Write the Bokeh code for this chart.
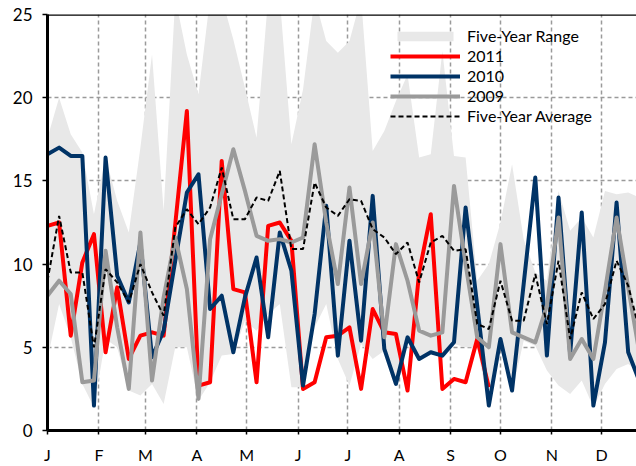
from bokeh.plotting import figure
from bokeh.models import Range1d, FixedTicker, Span, Legend, LegendItem
from bokeh.embed import file_html
from bokeh.resources import INLINE

# x positions: day of year of each weekly observation
week_day = [0, 7, 14, 21, 28, 35, 42, 49, 56, 63, 70, 77, 84, 91, 98, 105, 112, 119,
            126, 133, 140, 147, 154, 161, 168, 175, 182, 189, 196, 203, 210, 217, 224,
            231, 238, 245, 252, 259, 266, 273, 280, 287, 294, 301, 308, 315, 322, 329,
            336, 343, 350, 357]

month_start_day = [0, 31, 59, 90, 120, 151, 181, 212, 243, 273, 304, 334]
month_labels = ["J", "F", "M", "A", "M", "J", "J", "A", "S", "O", "N", "D"]
y_ticks = [0, 5, 10, 15, 20, 25]

range_high = [17.6, 20.0, 17.8, 16.7, 13.0, 16.4, 13.8, 11.9, 17.0, 22.6, 13.2, 26.0,
              22.6, 20.2, 26.0, 26.0, 23.5, 20.6, 17.6, 26.0, 26.0, 17.2, 20.5, 26.0,
              23.4, 22.7, 23.4, 26.0, 16.8, 18.0, 19.8, 21.4, 16.4, 16.6, 22.8, 16.5,
              16.4, 9.0, 10.0, 12.5, 16.0, 11.5, 9.5, 9.0, 14.4, 12.0, 12.8, 11.6,
              14.4, 14.2, 14.3, 14.0]
range_low = [4.3, 7.6, 5.6, 2.8, 1.4, 5.5, 5.0, 2.4, 2.1, 2.8, 1.6, 5.0,
             5.0, 1.8, 2.9, 4.5, 4.6, 6.6, 6.0, 7.0, 7.6, 2.6, 2.6, 6.2,
             7.6, 4.3, 2.7, 5.2, 4.3, 4.8, 2.7, 5.5, 4.2, 4.6, 4.4, 5.2,
             5.0, 5.0, 1.4, 5.0, 2.3, 5.4, 5.1, 3.6, 2.7, 2.2, 3.0, 1.4,
             2.8, 3.7, 4.0, 3.5]

y2011 = [12.3, 12.5, 5.7, 10.1, 11.8, 4.7, 8.6, 4.3, 5.7, 5.9, 5.7, 12.4, 19.2,
         2.7, 2.9, 16.2, 8.5, 8.3, 2.9, 12.3, 12.5, 11.4, 2.5, 2.9, 5.6, 5.7,
         6.2, 2.5, 7.3, 5.9, 5.8, 2.4, 9.5, 13.0, 2.5, 3.1, 2.9, 5.5, 2.6]

y2010 = [16.6, 17.0, 16.5, 16.5, 1.5, 16.4, 9.3, 7.7, 11.3, 4.4, 6.0, 10.2, 14.3,
         15.4, 7.3, 8.1, 4.7, 8.0, 10.4, 5.6, 11.9, 9.6, 2.7, 7.0, 13.5, 4.5,
         11.4, 5.4, 14.1, 4.9, 2.8, 5.6, 4.3, 4.7, 4.5, 5.3, 13.4, 7.5, 1.5,
         5.5, 2.4, 8.8, 15.2, 4.5, 14.0, 4.6, 13.1, 1.5, 5.3, 13.7, 4.7, 2.9]

y2009 = [8.1, 9.0, 8.2, 2.9, 3.0, 10.8, 6.2, 2.5, 11.9, 3.0, 8.0, 11.6, 8.5,
         1.9, 11.5, 14.2, 16.9, 14.4, 11.7, 11.4, 11.5, 11.3, 11.6, 17.2, 12.5, 8.8,
         14.6, 8.8, 12.5, 5.6, 11.2, 9.0, 6.0, 5.7, 5.9, 14.7, 10.0, 5.6, 5.0,
         11.2, 5.9, 5.6, 5.3, 7.5, 12.8, 4.3, 5.5, 4.3, 8.4, 12.8, 8.6, 4.5]

avg5 = [9.0, 12.9, 9.5, 9.5, 5.0, 9.7, 8.9, 7.7, 10.0, 8.3, 6.9, 12.2, 13.3,
        12.4, 13.4, 15.8, 12.7, 12.7, 14.0, 13.8, 15.6, 10.9, 10.9, 14.9, 13.4, 12.9,
        13.9, 13.8, 12.1, 11.6, 10.6, 11.3, 8.9, 11.3, 11.7, 10.8, 10.9, 6.4, 6.1,
        9.0, 6.6, 6.6, 9.4, 6.4, 10.2, 5.5, 8.3, 6.7, 7.6, 10.2, 8.7, 5.9]

FONT = "Lato"

p = figure(width=636, height=466, output_backend="svg", toolbar_location=None,
           x_range=Range1d(0, 355), y_range=Range1d(0, 25),
           min_border_left=47, min_border_right=0, min_border_top=14, min_border_bottom=35)
p.outline_line_color = None
p.background_fill_color = "white"
p.border_fill_color = "white"

band = p.varea(x=week_day, y1=range_low, y2=range_high, fill_color="#e8e8e8")
r11 = p.line(week_day[:len(y2011)], y2011, line_color="#ff0000", line_width=4, line_join="round")
r10 = p.line(week_day, y2010, line_color="#003366", line_width=4, line_join="round")
r09 = p.line(week_day, y2009, line_color="#9a9a9a", line_width=4, line_join="round")
ravg = p.line(week_day, avg5, line_color="black", line_width=2, line_dash="5 3")

# axes
p.xaxis.ticker = FixedTicker(ticks=month_start_day)
p.xaxis.major_label_overrides = {d: l for d, l in zip(month_start_day, month_labels)}
p.yaxis.ticker = FixedTicker(ticks=y_ticks)
for ax in (p.xaxis[0], p.yaxis[0]):
    ax.axis_line_color = "black"
    ax.axis_line_width = 3
    ax.major_tick_line_color = "black"
    ax.major_tick_line_width = 1.5
    ax.major_tick_in = 0
    ax.minor_tick_line_color = None
    ax.major_label_text_font = FONT
    ax.major_label_text_color = "black"
p.xaxis.major_tick_out = 4
p.xaxis.major_label_standoff = 10
p.xaxis.major_label_text_font_size = "16px"
p.yaxis.major_tick_out = 5
p.yaxis.major_label_standoff = 10
p.yaxis.major_label_text_font_size = "17px"

for g in (p.xgrid[0], p.ygrid[0]):
    g.grid_line_color = "#9a9a9a"
    g.grid_line_dash = "4 3"
    g.grid_line_width = 1.5

p.add_layout(Span(location=25, dimension="width", line_color="black", line_width=2.5))

legend = Legend(items=[
    LegendItem(label="Five-Year Range", renderers=[band]),
    LegendItem(label="2011", renderers=[r11]),
    LegendItem(label="2010", renderers=[r10]),
    LegendItem(label="2009", renderers=[r09]),
    LegendItem(label="Five-Year Average", renderers=[ravg]),
], location=(343, 305))
legend.background_fill_alpha = 0
legend.border_line_color = None
legend.padding = 0
legend.margin = 0
legend.spacing = 1
legend.glyph_width = 70
legend.glyph_height = 12
legend.label_standoff = 7
legend.label_height = 18
legend.label_text_font = FONT
legend.label_text_font_size = "16px"
legend.label_text_color = "black"
p.add_layout(legend)

open("out.html", "w").write(file_html(p, INLINE))
